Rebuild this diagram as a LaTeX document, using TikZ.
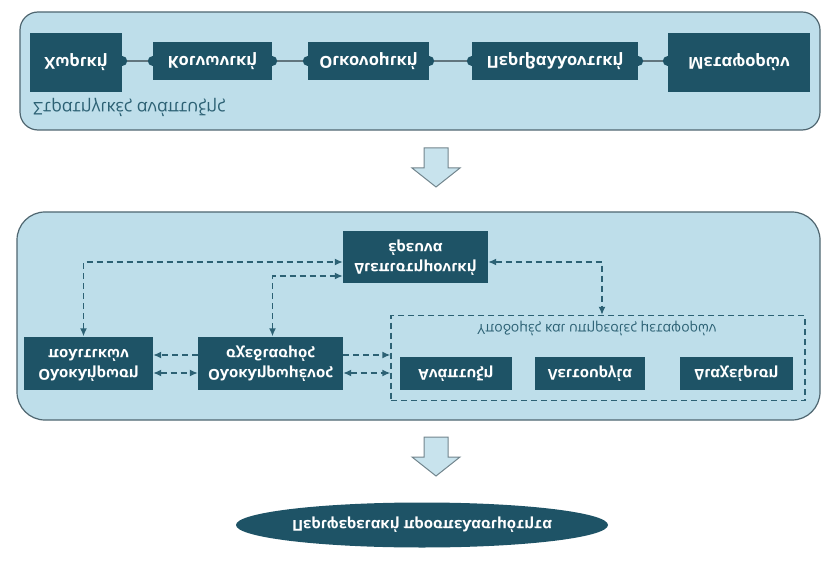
\documentclass[tikz,border=0pt]{standalone}
\usepackage{fontspec}
\setmainfont{Open Sans}
\usetikzlibrary{calc}
\usetikzlibrary{shapes}
\usetikzlibrary{arrows.meta}
\definecolor{panelblue}{HTML}{BEDEEA}
\definecolor{boxteal}{HTML}{1E5366}
\definecolor{edgegray}{HTML}{4F6670}
\definecolor{linkteal}{HTML}{2C6174}
\newcommand{\flip}[1]{\scalebox{1}[-1]{#1}}
\newcommand{\bxfont}{\fontsize{15}{20}\bfseries\selectfont}
\newcommand{\createarrow}[2]{\filldraw[fill=panelblue!85,draw=edgegray!80,line width=1pt] (#1-12,#2) -- (#1+12,#2) -- (#1+12,#2+20) -- (#1+24,#2+20) -- (#1,#2+39) -- (#1-24,#2+20) -- (#1-12,#2+20) -- cycle;}

\begin{document}
\begin{tikzpicture}[x=1pt,y=-1pt,
    box/.style={fill=boxteal,text=white,font=\bxfont,inner sep=0pt,minimum height=38pt},
    topbox/.style={box,font=\fontsize{16.5}{20}\bfseries\selectfont},
    panel/.style={fill=panelblue,draw=edgegray,line width=1.2pt},
    dlink/.style={draw=linkteal,line width=1.4pt,dash pattern=on 6pt off 4pt},
    >={Latex[length=8pt,width=7pt]}]
    \useasboundingbox (0,0) rectangle (837,561);
    %strategies
    \draw[panel,rounded corners=18pt] (20,12) rectangle (820,130);
    \node[topbox,minimum width=92pt,minimum height=59pt] (spatial) at (76,62.5) {\flip{Χωρική}};
    \node[topbox,minimum width=119pt] (social) at (212.5,61) {\flip{Κοινωνική}};
    \node[topbox,minimum width=121pt] (economic) at (368.5,61) {\flip{Οικονομική}};
    \node[topbox,minimum width=166pt] (environ) at (555,61) {\flip{Περιβαλλοντική}};
    \node[topbox,minimum width=142pt,minimum height=59pt] (transport) at (739,62.5) {\flip{Μεταφορών}};
    \foreach \a/\b in {spatial/social, social/economic, economic/environ, environ/transport} {
    \draw[draw=edgegray!90,line width=2pt] (\a.east |- social.center) -- (\b.west |- social.center);
    \fill[boxteal] (\a.east |- social.center) circle (5pt) (\b.west |- social.center) circle (5pt);}
    \node[anchor=west,text=linkteal,font=\fontsize{17.5}{20}\selectfont,inner sep=0pt] (strategies) at (33,107) {\flip{Στρατηγικές ανάπτυξης}};
    \createarrow{436}{148}
    %integration
    \draw[panel,rounded corners=28pt] (17,212) rectangle (820,420);
    \node[box,minimum width=145pt,minimum height=52pt] (research) at (415.5,257) {\flip{\begin{tabular}{@{}c@{}}Διεπιστημονική\\έρευνα\end{tabular}}};
    \node[box,minimum width=129pt,minimum height=53pt] (policies) at (88.5,363) {\flip{\begin{tabular}{@{}c@{}}Ολοκλήρωση\\πολιτικών\end{tabular}}};
    \node[box,minimum width=145pt,minimum height=53pt] (planning) at (270.5,363) {\flip{\begin{tabular}{@{}c@{}}Ολοκληρωμένος\\σχεδιασμός\end{tabular}}};
    \node[dlink,draw,minimum width=414pt,minimum height=85pt,inner sep=0pt] (infra) at (598,358) {};
    \node[text=linkteal,font=\fontsize{14}{17}\selectfont,inner sep=0pt] (infralabel) at (597,328) {\flip{Υποδομές και υπηρεσίες μεταφορών}};
    \foreach \n/\t/\x/\w in {develop/Ανάπτυξη/456/112, operate/Λειτουργία/590/110, manage/Διαχείριση/736.5/113}
    \node[box,minimum width=\w pt,minimum height=33pt] (\n) at (\x,373.5) {\flip{\t}};
    \coordinate (infraL) at (infra.west |- planning.east);
    \draw[dlink,<->] ([xshift=-5pt]policies.north) |- ([yshift=-5pt]research.west);
    \draw[dlink,<->] ([xshift=2pt]planning.north) |- ([yshift=-19pt]research.west);
    \draw[dlink,<->] ([yshift=-5pt]research.east) -| ([xshift=4pt]infra.north);
    \draw[dlink,->] ([yshift=8pt]planning.west) -- ([yshift=8pt]policies.east);
    \draw[dlink,<->] ([yshift=-10pt]policies.east) -- ([yshift=-10pt]planning.west);
    \draw[dlink,->] ([yshift=8pt]planning.east) -- ([yshift=8pt]infraL);
    \draw[dlink,<->] ([yshift=-10pt]planning.east) -- ([yshift=-10pt]infraL);
    \createarrow{436}{437}
    %accessibility
    \node[ellipse,fill=boxteal,text=white,font=\bxfont,minimum width=372pt,minimum height=45pt,inner sep=0pt] (access) at (422,525) {\flip{Περιφερειακή προσπελασιμότητα}};
\end{tikzpicture}
\end{document}
